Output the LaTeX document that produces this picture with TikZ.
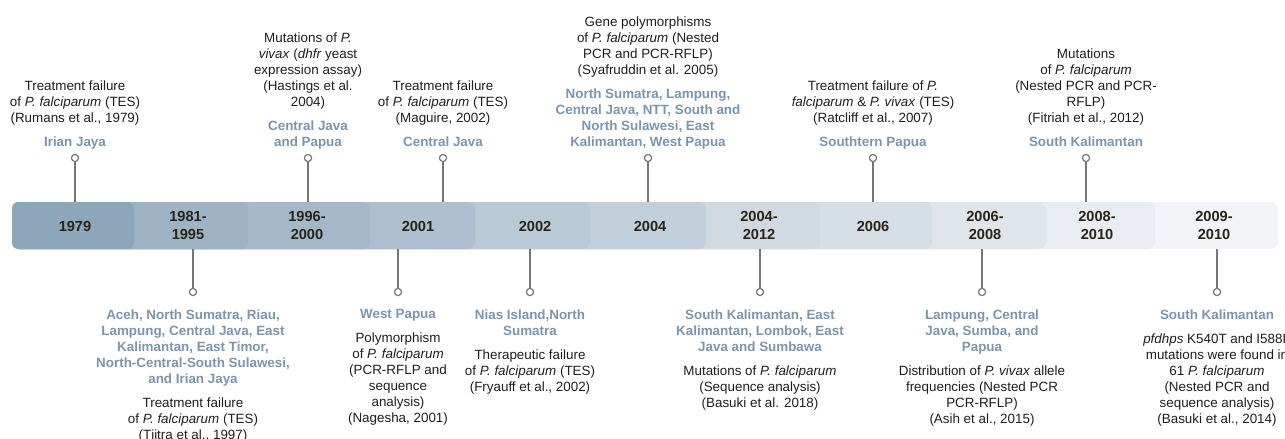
\documentclass[tikz,border=0pt]{standalone}
\usepackage{fontspec}
\setmainfont{Liberation Sans}
\usetikzlibrary{positioning}
\definecolor{placeblue}{RGB}{122,149,176}
\definecolor{yeartext}{RGB}{40,36,24}
\definecolor{notetext}{RGB}{30,30,30}
\definecolor{stemgray}{RGB}{118,118,118}
\definecolor{segA}{HTML}{8EA6BA}
\definecolor{segB}{HTML}{9EB3C4}
\definecolor{segC}{HTML}{A4B8C9}
\definecolor{segD}{HTML}{AEC0CF}
\definecolor{segE}{HTML}{B9C9D6}
\definecolor{segF}{HTML}{C2D0DC}
\definecolor{segG}{HTML}{D0D9E2}
\definecolor{segH}{HTML}{D6DEE6}
\definecolor{segI}{HTML}{DFE5EB}
\definecolor{segJ}{HTML}{E9EDF2}
\definecolor{segK}{HTML}{F2F4F7}

\begin{document}
\begin{tikzpicture}[x=0.5pt, y=-0.5pt,
    every node/.style={inner sep=0pt, outer sep=0pt},
    year/.style={font=\fontsize{7.3}{9}\selectfont\bfseries, text=yeartext, align=center},
    place/.style={font=\fontsize{6.7}{8}\selectfont\bfseries, text=placeblue, align=center, text depth=0pt},
    note/.style={font=\fontsize{6.7}{8}\selectfont, text=notetext, align=center, text depth=0pt},
    pin/.style={circle, draw=stemgray, fill=white, line width=0.6pt, minimum size=3.6pt},
    stem/.style={draw=stemgray, line width=0.6pt}]
    \useasboundingbox (0,0) rectangle (1285,439);
    \fill [segK, rounded corners=3.5pt] (12,202) rectangle (1278,249);
    \fill [segJ, rounded corners=3.5pt] (12,202) rectangle (1155,249);
    \fill [segI, rounded corners=3.5pt] (12,202) rectangle (1046,249);
    \fill [segH, rounded corners=3.5pt] (12,202) rectangle (932,249);
    \fill [segG, rounded corners=3.5pt] (12,202) rectangle (820,249);
    \fill [segF, rounded corners=3.5pt] (12,202) rectangle (706,249);
    \fill [segE, rounded corners=3.5pt] (12,202) rectangle (590,249);
    \fill [segD, rounded corners=3.5pt] (12,202) rectangle (475,249);
    \fill [segC, rounded corners=3.5pt] (12,202) rectangle (370,249);
    \fill [segB, rounded corners=3.5pt] (12,202) rectangle (248,249);
    \fill [segA, rounded corners=3.5pt] (12,202) rectangle (134,249);
    \coordinate (bartop) at (0,202);
    \coordinate (barbot) at (0,249);

    \node [year] (y1979) at (75,226) {1979};
    \node [year] (y1981) at (188,225) {1981-\\1995};
    \node [year] (y1996) at (307,225) {1996-\\2000};
    \node [year] (y2001) at (418,226) {2001};
    \node [year] (y2002) at (535,226) {2002};
    \node [year] (y2004) at (650,226) {2004};
    \node [year] (y2004b) at (759,225) {2004-\\2012};
    \node [year] (y2006) at (873,226) {2006};
    \node [year] (y2006b) at (985,225) {2006-\\2008};
    \node [year] (y2008) at (1097,225) {2008-\\2010};
    \node [year] (y2009) at (1214,225) {2009-\\2010};

    \node [pin] (c1979) at (75,158) {};
    \node [pin] (c1996) at (308,158) {};
    \node [pin] (c2001) at (443,158) {};
    \node [pin] (c2004) at (648,158) {};
    \node [pin] (c2006) at (873,158) {};
    \node [pin] (c2008) at (1086,158) {};
    \node [pin] (c1981) at (193,292) {};
    \node [pin] (c2001b) at (398,292) {};
    \node [pin] (c2002) at (530,292) {};
    \node [pin] (c2004b) at (760,292) {};
    \node [pin] (c2006b) at (982,292) {};
    \node [pin] (c2009) at (1217,292) {};

    \draw [stem] (c1979) -- (c1979 |- bartop);
    \draw [stem] (c1996) -- (c1996 |- bartop);
    \draw [stem] (c2001) -- (c2001 |- bartop);
    \draw [stem] (c2004) -- (c2004 |- bartop);
    \draw [stem] (c2006) -- (c2006 |- bartop);
    \draw [stem] (c2008) -- (c2008 |- bartop);
    \draw [stem] (c1981) -- (c1981 |- barbot);
    \draw [stem] (c2001b) -- (c2001b |- barbot);
    \draw [stem] (c2002) -- (c2002 |- barbot);
    \draw [stem] (c2004b) -- (c2004b |- barbot);
    \draw [stem] (c2006b) -- (c2006b |- barbot);
    \draw [stem] (c2009) -- (c2009 |- barbot);

    \node [place, above=4.2pt of c1979] (p1979) {Irian Jaya};
    \node [note, above=6.7pt of p1979] (n1979) {Treatment failure\\of \textit{P. falciparum} (TES)\\(Rumans et al., 1979)};
    \node [place, above=4.2pt of c1996] (p1996) {Central Java\\and Papua};
    \node [note, above=6.7pt of p1996] (n1996) {Mutations of \textit{P.}\\\textit{vivax} (\textit{dhfr} yeast\\expression assay)\\(Hastings et al.\\2004)};
    \node [place, above=4.2pt of c2001] (p2001) {Central Java};
    \node [note, above=6.7pt of p2001] (n2001) {Treatment failure\\of \textit{P. falciparum} (TES)\\(Maguire, 2002)};
    \node [place, above=4.2pt of c2004] (p2004) {North Sumatra, Lampung,\\Central Java, NTT, South and\\North Sulawesi, East\\Kalimantan, West Papua};
    \node [note, above=6.7pt of p2004] (n2004) {Gene polymorphisms\\of \textit{P. falciparum} (Nested\\PCR and PCR-RFLP)\\(Syafruddin et al. 2005)};
    \node [place, above=4.2pt of c2006] (p2006) {Southtern Papua};
    \node [note, above=6.7pt of p2006] (n2006) {Treatment failure of \textit{P.}\\\textit{falciparum} \& \textit{P. vivax} (TES)\\(Ratcliff et al., 2007)};
    \node [place, above=4.2pt of c2008] (p2008) {South Kalimantan};
    \node [note, above=6.7pt of p2008] (n2008) {Mutations\\of \textit{P. falciparum}\\(Nested PCR and PCR-\\RFLP)\\(Fitriah et al., 2012)};

    \node [place, below=7pt of c1981] (p1981) {Aceh, North Sumatra, Riau,\\Lampung, Central Java, East\\Kalimantan, East Timor,\\North-Central-South Sulawesi,\\and Irian Jaya};
    \node [note, below=7pt of p1981] (n1981) {Treatment failure\\of \textit{P. falciparum} (TES)\\(Tjitra et al., 1997)};
    \node [place, below=7pt of c2001b] (p2001b) {West Papua};
    \node [note, below=7pt of p2001b] (n2001b) {Polymorphism\\of \textit{P. falciparum}\\(PCR-RFLP and\\sequence\\analysis)\\(Nagesha, 2001)};
    \node [place, below=7pt of c2002] (p2002) {Nias Island,North\\Sumatra};
    \node [note, below=7pt of p2002] (n2002) {Therapeutic failure\\of \textit{P. falciparum} (TES)\\(Fryauff et al., 2002)};
    \node [place, below=7pt of c2004b] (p2004b) {South Kalimantan, East\\Kalimantan, Lombok, East\\Java and Sumbawa};
    \node [note, below=7pt of p2004b] (n2004b) {Mutations of \textit{P. falciparum}\\(Sequence analysis)\\(Basuki et al. 2018)};
    \node [place, below=7pt of c2006b] (p2006b) {Lampung, Central\\Java, Sumba, and\\Papua};
    \node [note, below=7pt of p2006b] (n2006b) {Distribution of \textit{P. vivax} allele\\frequencies (Nested PCR\\PCR-RFLP)\\(Asih et al., 2015)};
    \node [place, below=7pt of c2009] (p2009) {South Kalimantan};
    \node [note, below=7pt of p2009] (n2009) {\textit{pfdhps} K540T and I588F\\mutations were found in\\61 \textit{P. falciparum}\\(Nested PCR and\\sequence analysis)\\(Basuki et al., 2014)};
\end{tikzpicture}
\end{document}
